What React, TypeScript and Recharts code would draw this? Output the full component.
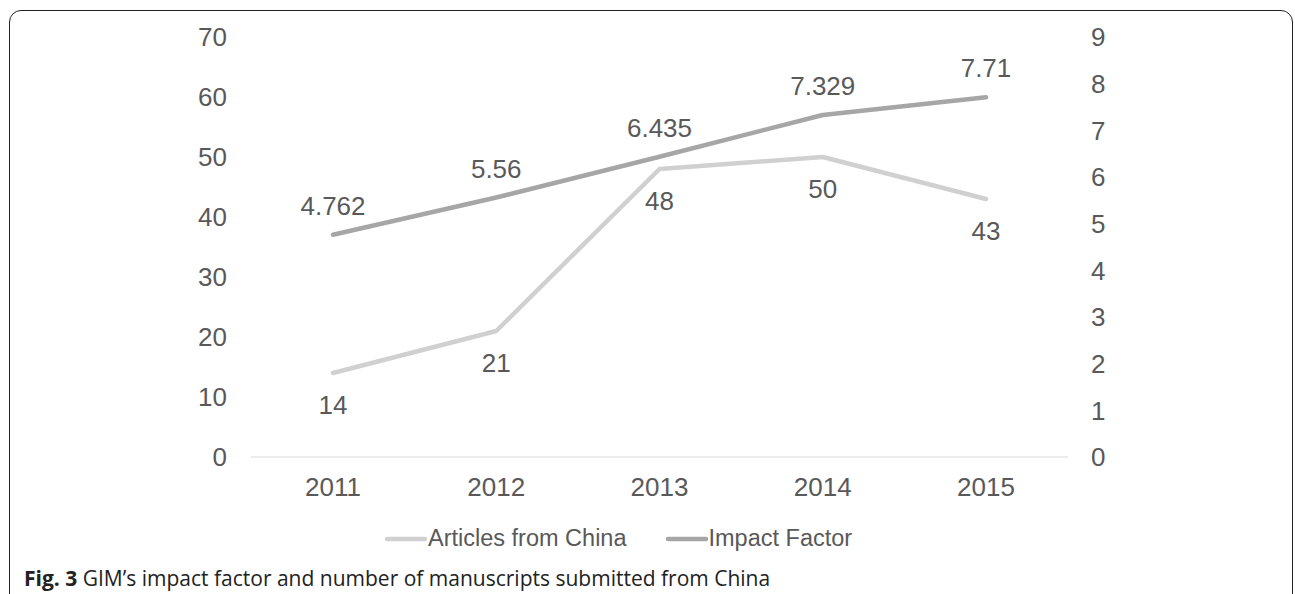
import React from 'react';
import { LineChart, Line, XAxis, YAxis, Legend, LabelList } from 'recharts';

const years = ['2011', '2012', '2013', '2014', '2015'];
const articlesFromChina = [14, 21, 48, 50, 43];
const impactFactor = [4.762, 5.56, 6.435, 7.329, 7.71];
const leftTicks = [0, 10, 20, 30, 40, 50, 60, 70];
const rightTicks = [0, 1, 2, 3, 4, 5, 6, 7, 8, 9];

const data = years.map((y, i) => ({
  year: y,
  articles: articlesFromChina[i],
  impact: impactFactor[i],
}));

const FONT = '"Liberation Sans", Arial, sans-serif';
const TEXT = '#595959';
const C_ART = '#d0d0d0';
const C_IF = '#a6a6a6';

const renderLegend = (props: any) => {
  const { payload } = props;
  return (
    <div style={{ display: 'flex', alignItems: 'center', fontFamily: FONT, fontSize: 23.5, color: TEXT, whiteSpace: 'nowrap' }}>
      {payload.map((p: any, i: number) => (
        <div key={i} style={{ display: 'flex', alignItems: 'center', marginRight: i === 0 ? 38 : 0 }}>
          <svg width={44} height={10} style={{ display: 'block' }}>
            <line x1={3} y1={5} x2={41} y2={5} stroke={p.color} strokeWidth={4.5} strokeLinecap="round" />
          </svg>
          <span>{p.value}</span>
        </div>
      ))}
    </div>
  );
};

export default function App() {
  return (
    <div style={{ position: 'fixed', left: 0, top: 0, width: 1295, height: 594, overflow: 'hidden', background: '#fff' }}>
      <div
        style={{
          position: 'absolute',
          left: 9,
          top: 10,
          width: 1284,
          height: 640,
          border: '1.5px solid #222',
          borderRadius: 12,
          boxSizing: 'border-box',
        }}
      />
      <div style={{ position: 'absolute', left: 0, top: 0 }}>
        <LineChart
          width={1295}
          height={594}
          data={data}
          margin={{ top: 37, left: 191, right: 167, bottom: 67 }}
        >
          <XAxis
            dataKey="year"
            height={40}
            padding={{ left: 82, right: 82 }}
            axisLine={{ stroke: '#d9d9d9', strokeWidth: 1.2 }}
            tickLine={false}
            tickSize={0}
            tickMargin={21}
            tick={{ fontSize: 26, fill: TEXT, fontFamily: FONT }}
          />
          <YAxis
            yAxisId="left"
            domain={[0, 70]}
            ticks={leftTicks}
            width={60}
            axisLine={false}
            tickLine={false}
            tickSize={0}
            tickMargin={24}
            tick={{ fontSize: 26, fill: TEXT, fontFamily: FONT }}
            interval={0}
          />
          <YAxis
            yAxisId="right"
            orientation="right"
            domain={[0, 9]}
            ticks={rightTicks}
            width={60}
            axisLine={false}
            tickLine={false}
            tickSize={0}
            tickMargin={23}
            tick={{ fontSize: 26, fill: TEXT, fontFamily: FONT }}
            interval={0}
          />
          <Legend
            verticalAlign="bottom"
            content={renderLegend}
            wrapperStyle={{ left: 384, top: 525, bottom: 'auto', width: 'auto', height: 30 }}
          />
          <Line
            yAxisId="left"
            type="linear"
            dataKey="articles"
            name="Articles from China"
            stroke={C_ART}
            strokeWidth={4.5}
            strokeLinecap="round"
            strokeLinejoin="round"
            dot={false}
            activeDot={false}
            isAnimationActive={false}
          >
            <LabelList dataKey="articles" position="bottom" offset={23} style={{ fontSize: 26, fill: TEXT, fontFamily: FONT }} />
          </Line>
          <Line
            yAxisId="right"
            type="linear"
            dataKey="impact"
            name="Impact Factor"
            stroke={C_IF}
            strokeWidth={4.5}
            strokeLinecap="round"
            strokeLinejoin="round"
            dot={false}
            activeDot={false}
            isAnimationActive={false}
          >
            <LabelList dataKey="impact" position="top" offset={20} style={{ fontSize: 26, fill: TEXT, fontFamily: FONT }} />
          </Line>
        </LineChart>
      </div>
      <div
        style={{
          position: 'absolute',
          left: 24,
          top: 568,
          fontFamily: '"Open Sans", sans-serif',
          fontSize: 21,
          lineHeight: '21px',
          color: '#222',
          whiteSpace: 'nowrap',
        }}
      >
        <b>Fig. 3</b> GIM’s impact factor and number of manuscripts submitted from China
      </div>
    </div>
  );
}
